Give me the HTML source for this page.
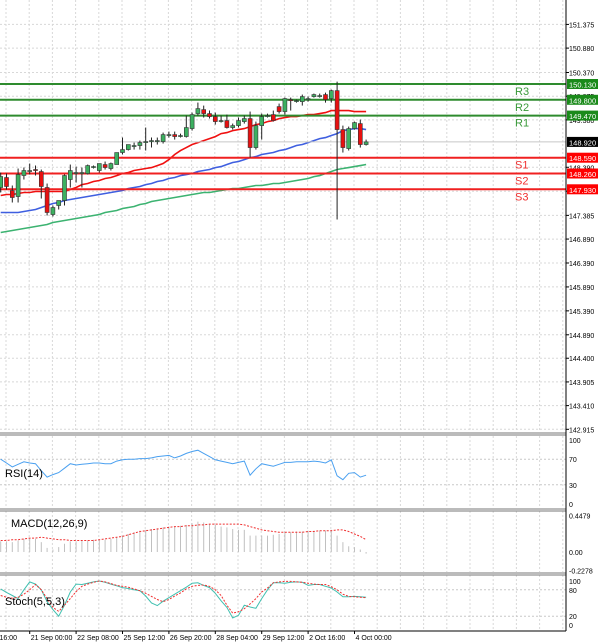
<!DOCTYPE html>
<html><head><meta charset="utf-8">
<style>
html,body{margin:0;padding:0;background:#fff;}
svg{display:block;font-family:"Liberation Sans",sans-serif;}
</style></head>
<body>
<svg id="chart" width="600" height="642" viewBox="0 0 600 642" xmlns="http://www.w3.org/2000/svg">
<rect x="0" y="0" width="600" height="642" fill="#fff"/>
<g id="grid"></g>
<g id="main"></g>
<g id="ind"></g>
<g id="axis"></g>
</svg>
<script>
// ---- data ----
const opens = [147.967,148.176,147.904,147.779,148.218,148.322,148.343,148.301,147.967,147.403,147.591,147.696,148.134,148.280,148.259,148.259,148.405,148.322,148.447,148.364,148.447,148.698,148.760,148.844,148.844,148.927,148.927,148.948,148.927,149.073,149.073,149.053,149.032,149.199,149.512,149.595,149.512,149.449,149.366,149.366,149.220,149.261,149.345,149.408,148.802,149.261,149.470,149.491,149.658,149.554,149.804,149.783,149.762,149.825,149.867,149.888,149.909,149.825,149.992,149.178,148.781,149.199,149.303,148.865];
const highs = [148.280,148.259,148.009,148.364,148.385,148.468,148.426,148.343,148.050,147.591,147.696,148.238,148.447,148.405,148.385,148.447,148.426,148.468,148.510,148.489,148.698,149.011,148.865,148.906,148.948,149.220,149.011,149.011,149.115,149.136,149.136,149.094,149.470,149.533,149.742,149.679,149.575,149.533,149.470,149.491,149.303,149.429,149.470,149.554,149.345,149.512,149.512,149.575,149.721,149.846,149.846,149.804,149.909,149.867,149.930,149.930,149.950,150.013,150.180,149.261,149.240,149.345,149.387,148.969];
const lows = [147.863,147.925,147.654,147.654,148.134,148.238,148.218,147.737,147.383,147.362,147.508,147.591,147.967,148.071,147.967,148.238,148.364,148.280,148.343,148.322,148.447,148.656,148.740,148.760,148.760,148.740,148.802,148.865,148.886,149.011,148.969,149.011,149.011,149.157,149.470,149.429,149.408,149.282,149.324,149.199,149.178,149.220,149.303,148.594,148.760,148.969,149.429,149.345,149.512,149.491,149.575,149.742,149.679,149.762,149.846,149.846,149.742,149.742,147.299,148.698,148.740,149.178,148.802,148.844];
const closes = [148.197,147.988,147.758,148.238,148.322,148.322,148.322,147.988,147.445,147.549,147.696,148.218,148.322,148.280,148.280,148.426,148.405,148.468,148.385,148.468,148.698,148.760,148.865,148.844,148.906,148.927,148.948,148.948,149.073,149.073,149.032,149.053,149.220,149.491,149.616,149.512,149.449,149.345,149.366,149.220,149.261,149.366,149.408,148.802,149.261,149.449,149.470,149.366,149.554,149.825,149.783,149.783,149.867,149.825,149.909,149.888,149.804,149.992,149.178,148.802,149.199,149.324,148.865,148.920];
const maFast = [147.800,147.821,147.821,147.842,147.862,147.862,147.883,147.883,147.883,147.883,147.883,147.883,147.925,147.967,148.029,148.050,148.092,148.113,148.155,148.176,148.217,148.259,148.280,148.322,148.343,148.364,148.384,148.426,148.468,148.551,148.656,148.739,148.802,148.865,148.906,148.948,148.990,149.032,149.094,149.115,149.157,149.178,149.199,149.240,149.282,149.303,149.345,149.366,149.408,149.428,149.449,149.449,149.470,149.491,149.491,149.512,149.533,149.575,149.575,149.575,149.575,149.554,149.554,149.554];
const maMid = [147.445,147.445,147.445,147.445,147.466,147.487,147.507,147.549,147.591,147.633,147.654,147.695,147.716,147.737,147.758,147.779,147.800,147.821,147.842,147.862,147.883,147.904,147.946,147.967,147.988,148.029,148.050,148.092,148.113,148.155,148.176,148.217,148.238,148.259,148.301,148.322,148.343,148.384,148.405,148.447,148.489,148.510,148.551,148.593,148.614,148.656,148.677,148.698,148.739,148.760,148.802,148.844,148.865,148.906,148.948,148.990,149.011,149.053,149.094,149.157,149.178,149.199,149.199,149.178];
const maSlow = [147.027,147.048,147.069,147.090,147.111,147.132,147.152,147.173,147.194,147.236,147.257,147.278,147.299,147.320,147.340,147.361,147.382,147.403,147.445,147.466,147.487,147.528,147.549,147.570,147.612,147.633,147.674,147.695,147.716,147.737,147.758,147.779,147.800,147.821,147.842,147.862,147.862,147.883,147.904,147.925,147.946,147.946,147.967,147.988,148.009,148.009,148.029,148.050,148.050,148.071,148.092,148.113,148.134,148.155,148.196,148.217,148.259,148.301,148.343,148.364,148.384,148.405,148.426,148.447];
const rsi = [70,64,58,62,66,64,63,52,42,46,49,56,63,61,62,63,64,64,63,63,67,69,70,70,71,71,72,74,75,76,72,75,79,82,84,79,74,69,67,65,63,65,67,45,55,63,61,59,62,65,65,66,66,66,67,66,64,69,44,38,48,49,42,45];
const macdHist = [0.13,0.13,0.12,0.14,0.16,0.17,0.16,0.12,0.05,0.03,0.06,0.10,0.13,0.13,0.14,0.14,0.15,0.15,0.15,0.16,0.18,0.20,0.22,0.24,0.26,0.27,0.28,0.29,0.30,0.31,0.31,0.32,0.33,0.35,0.37,0.36,0.34,0.33,0.31,0.30,0.28,0.27,0.27,0.20,0.20,0.20,0.20,0.21,0.22,0.24,0.24,0.25,0.25,0.26,0.26,0.26,0.26,0.27,0.20,0.12,0.07,0.06,0.03,-0.02];
const macdSignal = [0.14,0.14,0.15,0.15,0.16,0.17,0.17,0.18,0.17,0.16,0.15,0.15,0.14,0.14,0.14,0.14,0.14,0.15,0.16,0.17,0.18,0.19,0.21,0.23,0.25,0.26,0.27,0.28,0.29,0.30,0.31,0.31,0.32,0.32,0.33,0.33,0.34,0.34,0.34,0.34,0.34,0.34,0.33,0.31,0.29,0.27,0.26,0.25,0.24,0.24,0.24,0.24,0.24,0.25,0.25,0.26,0.26,0.26,0.27,0.27,0.25,0.22,0.19,0.15];
const stochK = [82,74,67,60,80,98,93,80,53,35,20,45,75,93,92,95,98,100,97,93,89,85,83,80,78,66,50,44,54,62,70,78,86,95,96,90,85,72,55,40,16,22,45,41,38,60,80,96,96,95,97,98,97,90,92,92,88,84,75,64,64,65,64,63];
const stochD = [67,63,61,63,70,80,92,80,60,40,31,45,60,76,88,93,97,100,98,94,90,88,86,82,78,72,65,58,53,58,66,73,82,88,90,91,88,80,67,45,27,30,37,48,60,75,84,96,98,99,99,98,97,95,93,92,92,87,80,70,65,64,63,62];
const levelNames = ["R3","R2","R1","S1","S2","S3"];
const levelValues = [150.130,149.800,149.470,148.590,148.260,147.930];
const currentPrice = 148.920;
const priceTicks = [151.375,150.880,150.370,149.875,149.380,148.390,147.890,147.385,146.890,146.390,145.890,145.390,144.890,144.400,143.905,143.410,142.915];
const dateLabels = ["20 Sep 16:00","21 Sep 00:00","22 Sep 08:00","25 Sep 12:00","26 Sep 20:00","28 Sep 04:00","29 Sep 12:00","2 Oct 16:00","4 Oct 00:00"];
const dateIdx = [-3,5,13,21,29,37,45,53,61];
const rsiTicks = [100,70,30,0];
const macdTicks = [0.4479,0.00,-0.2278];
const macdTickText = ["0.4479","0.00","-0.2278"];
const stochTicks = [100,80,20,0];

// ---- scales ----
const NS="http://www.w3.org/2000/svg";
const PW=566;
const xOf=i=>0.7+5.8*i;
const yP=p=>84+(150.13-p)*47.86;
const yR=v=>440+(100-v)*0.64;
const yM=v=>552-v*82;
const yS=v=>581+(100-v)*0.44;
function el(t,a,parent){const e=document.createElementNS(NS,t);for(const k in a)e.setAttribute(k,a[k]);parent.appendChild(e);return e;}
const grid=document.getElementById('grid'),main=document.getElementById('main'),ind=document.getElementById('ind'),axis=document.getElementById('axis');

const panels=[[0,432],[436,508],[511,572],[575,630]];
for(let k=0;k<25;k++){const x=6+23.2*k;if(x>PW)break;
  panels.forEach(p=>{const l=el('line',{x1:x,x2:x,y1:p[0],y2:p[1],stroke:'#d8d8d8','stroke-dasharray':'2,2'},grid);
  });}
priceTicks.forEach(p=>{const y=yP(p);
  const l=el('line',{x1:0,x2:PW,y1:y,y2:y,stroke:'#d8d8d8','stroke-dasharray':'2,2'},grid);
  
  el('line',{x1:PW,x2:PW+3,y1:y,y2:y,stroke:'#000'},axis);
  const t=el('text',{x:569,y:y+3,'font-size':7,fill:'#000'},axis);t.textContent=p.toFixed(3);
  });

function line(vals,fy,color,w,dash,parent,name){let d='';vals.forEach((v,i)=>{d+=(i?'L':'M')+xOf(i).toFixed(1)+','+fy(v).toFixed(1);});
  const a={d:d,fill:'none',stroke:color,'stroke-width':w};if(dash)a['stroke-dasharray']=dash;const e=el('path',a,parent);
  return e;}
line(maSlow,yP,'#3cb371',1.6,null,main,'ma-slow-line');
line(maMid,yP,'#3f5fe0',1.6,null,main,'ma-mid-line');
line(maFast,yP,'#f01010',1.6,null,main,'ma-fast-line');

levelValues.forEach((v,i)=>{const y=yP(v);const c=i<3?'#2e8b2e':'#f02020';
  const l=el('line',{x1:0,x2:PW,y1:y,y2:y,stroke:c,'stroke-width':2},main);
  
  const t=el('text',{x:515,y:y+11,'font-size':11,fill:i<3?'#3a9a3a':'#f03030'},main);t.textContent=levelNames[i];
  
  const b=el('rect',{x:567,y:y-5,width:31,height:10,fill:i<3?'#1a8a1a':'#ff0000'},axis);
  
  const bt=el('text',{x:569,y:y+3.5,'font-size':7.5,fill:'#fff'},axis);bt.textContent=v.toFixed(3);
  });
{const y=yP(currentPrice);
 const l=el('line',{x1:0,x2:PW,y1:y,y2:y,stroke:'#c8c8c8','stroke-width':1},main);
 
 const b=el('rect',{x:567,y:y-5,width:31,height:10,fill:'#000'},axis);
 
 const t=el('text',{x:569,y:y+3.5,'font-size':7.5,fill:'#fff'},axis);t.textContent=currentPrice.toFixed(3);
 }

opens.forEach((o,i)=>{const x=xOf(i),c=closes[i];
  const w=el('line',{x1:x,x2:x,y1:yP(highs[i]),y2:yP(lows[i]),stroke:'#222','stroke-width':1},main);
  
  const top=yP(Math.max(o,c)),bot=yP(Math.min(o,c));const up=c>=o;
  const r=el('rect',{x:x-2,y:top,width:4,height:Math.max(1,bot-top),fill:up?'#3cb060':'#e81010',stroke:'#333','stroke-width':0.6},main);
  });

line(rsi,yR,'#4aa0f0',1,null,ind,'rsi-line');
macdHist.forEach((v,i)=>{const x=xOf(i);const b=el('line',{x1:x,x2:x,y1:yM(0),y2:yM(v),stroke:'#c0c0c0','stroke-width':1},ind);
  });
line(macdSignal,yM,'#f03030',1,'2,1.5',ind,'macd-signal-line');
line(stochK,yS,'#40c0b0',1,null,ind,'stoch-k-line');
line(stochD,yS,'#f03030',1,'2,1.5',ind,'stoch-d-line');
[yR(70),yR(30),yS(80),yS(20)].forEach(y=>{const l=el('line',{x1:0,x2:PW,y1:y,y2:y,stroke:'#c8c8c8','stroke-dasharray':'2,2'},grid);
  });

rsiTicks.forEach(v=>{const t=el('text',{x:569,y:yR(v)+3,'font-size':7},axis);t.textContent=String(v);
  });
macdTicks.forEach((v,i)=>{const t=el('text',{x:569,y:yM(v)+3,'font-size':7},axis);t.textContent=macdTickText[i];
  });
stochTicks.forEach(v=>{const t=el('text',{x:569,y:yS(v)+3,'font-size':7},axis);t.textContent=String(v);
  });

[["RSI(14)",5,477,'rsi-title'],["MACD(12,26,9)",11,527,'macd-title'],["Stoch(5,5,3)",5,605,'stoch-title']].forEach(a=>{
  const t=el('text',{x:a[1],y:a[2],'font-size':11,fill:'#000'},ind);t.textContent=a[0];
  });

[433,509,573].forEach(y=>{el('line',{x1:0,x2:PW,y1:y,y2:y,stroke:'#777','stroke-width':1},axis);
  const s=el('line',{x1:0,x2:PW,y1:y+2,y2:y+2,stroke:'#777','stroke-width':1},axis);
  });
{const a=el('line',{x1:PW,x2:PW,y1:0,y2:631,stroke:'#000','stroke-width':1},axis);
 
 const b=el('line',{x1:0,x2:PW,y1:631,y2:631,stroke:'#000','stroke-width':1},axis);
 }
dateLabels.forEach((s,k)=>{const x=xOf(dateIdx[k]);
  el('line',{x1:x,x2:x,y1:631,y2:634,stroke:'#000'},axis);
  const t=el('text',{x:x-8,y:640,'font-size':7},axis);t.textContent=s;
  if(k>0)t.setAttribute('x',x+1);
  });
</script>
</body></html>
